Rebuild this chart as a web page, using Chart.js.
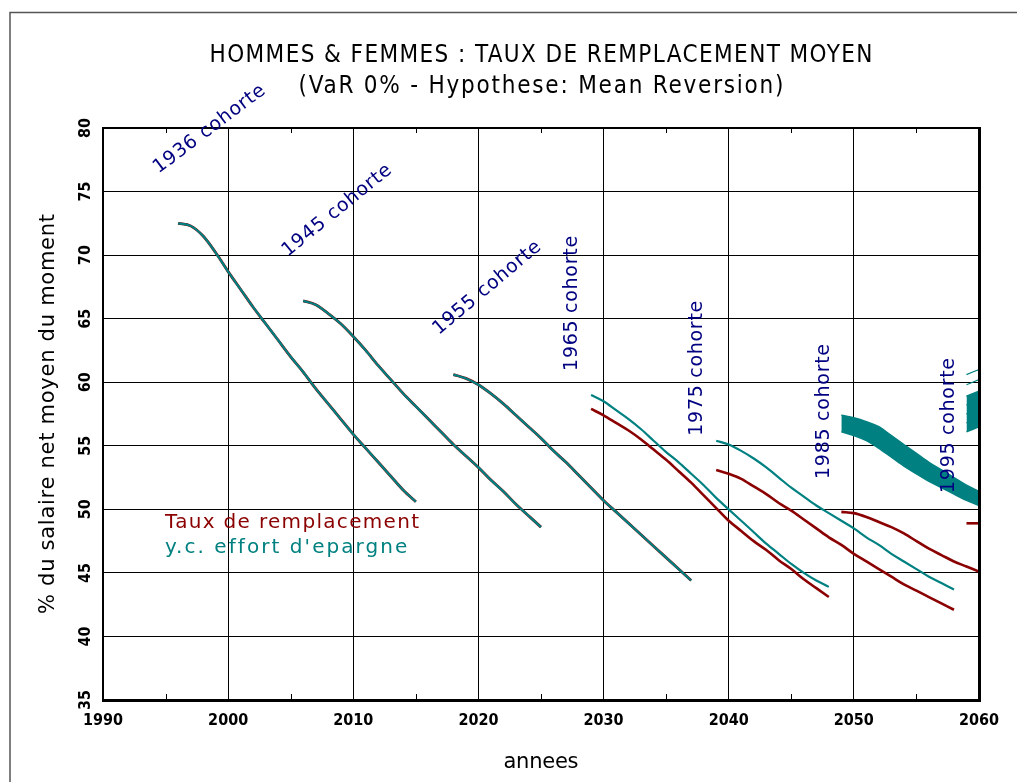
<!DOCTYPE html>
<html>
<head>
<meta charset="utf-8">
<script src="https://cdn.jsdelivr.net/npm/chart.js@4.4.0/dist/chart.umd.min.js"></script>
<style>
  html, body { margin: 0; padding: 0; background: #fff; }
  #wrap { width: 1017px; height: 782px; }
</style>
</head>
<body>
<div id="wrap"><canvas id="myChart" width="1017" height="782"></canvas></div>
<script>
// tick labels
const xTicks = [1990, 2000, 2010, 2020, 2030, 2040, 2050, 2060]
const yTicks = [35, 40, 45, 50, 55, 60, 65, 70, 75, 80]

// cohort names
const cohorts = ['1936 cohorte', '1945 cohorte', '1955 cohorte', '1965 cohorte', '1975 cohorte', '1985 cohorte', '1995 cohorte']

// 1936 cohort
const years1936 = [1996, 1997, 1998, 1999, 2000, 2001, 2002, 2003, 2004, 2005, 2006, 2007, 2008, 2009, 2010, 2011, 2012, 2013, 2014, 2015]
const taux1936 = [72.5, 72.3, 71.5, 70.2, 68.7, 67.3, 65.9, 64.6, 63.3, 62.0, 60.8, 59.5, 58.3, 57.1, 55.9, 54.8, 53.7, 52.6, 51.5, 50.6]
const epargne1936 = [72.5, 72.3, 71.5, 70.2, 68.7, 67.3, 65.9, 64.6, 63.3, 62.0, 60.8, 59.5, 58.3, 57.1, 55.9, 54.8, 53.7, 52.6, 51.5, 50.6]

// 1945 cohort
const years1945 = [2006, 2007, 2008, 2009, 2010, 2011, 2012, 2013, 2014, 2015, 2016, 2017, 2018, 2019, 2020, 2021, 2022, 2023, 2024, 2025]
const taux1945 = [66.4, 66.1, 65.4, 64.6, 63.6, 62.5, 61.3, 60.2, 59.1, 58.1, 57.1, 56.1, 55.1, 54.2, 53.3, 52.3, 51.4, 50.4, 49.5, 48.6]
const epargne1945 = [66.4, 66.1, 65.4, 64.6, 63.6, 62.5, 61.3, 60.2, 59.1, 58.1, 57.1, 56.1, 55.1, 54.2, 53.3, 52.3, 51.4, 50.4, 49.5, 48.6]

// 1955 cohort
const years1955 = [2018, 2019, 2020, 2021, 2022, 2023, 2024, 2025, 2026, 2027, 2028, 2029, 2030, 2031, 2032, 2033, 2034, 2035, 2036, 2037]
const taux1955 = [60.6, 60.3, 59.8, 59.1, 58.3, 57.4, 56.5, 55.6, 54.6, 53.7, 52.7, 51.7, 50.7, 49.8, 48.9, 48.0, 47.1, 46.2, 45.3, 44.4]
const epargne1955 = [60.6, 60.3, 59.8, 59.1, 58.3, 57.4, 56.5, 55.6, 54.6, 53.7, 52.7, 51.7, 50.7, 49.8, 48.9, 48.0, 47.1, 46.2, 45.3, 44.4]

// 1965 cohort
const years1965 = [2029, 2030, 2031, 2032, 2033, 2034, 2035, 2036, 2037, 2038, 2039, 2040, 2041, 2042, 2043, 2044, 2045, 2046, 2047, 2048]
const taux1965 = [57.9, 57.4, 56.8, 56.2, 55.5, 54.7, 53.9, 53.0, 52.1, 51.1, 50.1, 49.1, 48.3, 47.5, 46.8, 46.0, 45.3, 44.5, 43.8, 43.1]
const epargne1965 = [59.0, 58.5, 57.8, 57.1, 56.3, 55.4, 54.5, 53.7, 52.8, 51.9, 50.9, 50.0, 49.1, 48.2, 47.3, 46.5, 45.7, 45.0, 44.4, 43.9]

// 1975 cohort
const years1975 = [2039, 2040, 2041, 2042, 2043, 2044, 2045, 2046, 2047, 2048, 2049, 2050, 2051, 2052, 2053, 2054, 2055, 2056, 2057, 2058]
const taux1975 = [53.1, 52.8, 52.4, 51.8, 51.2, 50.5, 49.9, 49.2, 48.5, 47.8, 47.2, 46.5, 45.9, 45.3, 44.7, 44.1, 43.6, 43.1, 42.6, 42.1]
const epargne1975 = [55.4, 55.1, 54.6, 54.0, 53.3, 52.5, 51.7, 51.0, 50.3, 49.7, 49.1, 48.5, 47.8, 47.2, 46.5, 45.9, 45.3, 44.7, 44.2, 43.7]

// 1985 cohort (saving curves form a thick bundle)
const years1985 = [2049, 2050, 2051, 2052, 2053, 2054, 2055, 2056, 2057, 2058, 2059, 2060]
const taux1985 = [49.8, 49.7, 49.4, 49.0, 48.6, 48.1, 47.5, 46.9, 46.4, 45.9, 45.5, 45.1]
const epargne1985Low = [56.1, 55.8, 55.4, 54.8, 54.1, 53.4, 52.8, 52.2, 51.7, 51.2, 50.7, 50.3]
const epargne1985High = [57.4, 57.2, 56.9, 56.5, 55.8, 55.1, 54.4, 53.7, 53.1, 52.5, 51.9, 51.4]

// 1995 cohort (only the start is visible)
const years1995 = [2059, 2060]
const taux1995 = [48.9, 48.9]
const epargne1995a = [56.1, 56.5]
const epargne1995b = [56.8, 57.2]
const epargne1995c = [57.5, 57.9]
const epargne1995d = [58.2, 58.6]
const epargne1995e = [58.9, 59.3]
const epargne1995f = [59.8, 60.2]
const epargne1995g = [60.6, 61.0]

const RED = '#8b0000'
const TEAL = '#008080'
const NAVY = '#000080'

function curve(years, vals, color, width, order, extra) {
  return Object.assign({
    data: years.map((yr, i) => ({x: yr, y: vals[i]})),
    borderColor: color,
    backgroundColor: color,
    borderWidth: width,
    pointRadius: 0,
    cubicInterpolationMode: 'monotone',
    fill: false,
    order: order
  }, extra || {})
}

const datasets = [
  curve(years1936, epargne1936, TEAL, 2.2, 0),
  curve(years1945, epargne1945, TEAL, 2.2, 0),
  curve(years1955, epargne1955, TEAL, 2.2, 0),
  curve(years1965, epargne1965, TEAL, 2.2, 0),
  curve(years1975, epargne1975, TEAL, 2.2, 0),
  curve(years1985, epargne1985Low, TEAL, 1.5, 0),
  curve(years1985, epargne1985High, TEAL, 1.5, 0, {fill: '-1'}),
  curve(years1995, epargne1995a, TEAL, 1.5, 0),
  curve(years1995, epargne1995b, TEAL, 1.5, 0, {fill: '-1'}),
  curve(years1995, epargne1995c, TEAL, 1.5, 0, {fill: '-1'}),
  curve(years1995, epargne1995d, TEAL, 1.5, 0, {fill: '-1'}),
  curve(years1995, epargne1995e, TEAL, 1.5, 0, {fill: '-1'}),
  curve(years1995, epargne1995f, TEAL, 1.2, 0),
  curve(years1995, epargne1995g, TEAL, 1.2, 0),
  curve(years1936, taux1936, RED, 2.8, 1),
  curve(years1945, taux1945, RED, 2.8, 1),
  curve(years1955, taux1955, RED, 2.8, 1),
  curve(years1965, taux1965, RED, 2.6, 1),
  curve(years1975, taux1975, RED, 2.6, 1),
  curve(years1985, taux1985, RED, 2.6, 1),
  curve(years1995, taux1995, RED, 2.6, 1)
]

// where the cohort names sit (in data units) and their angle
const labelSpots = [
  {x: 1998.5, y: 79.9, angle: -37},
  {x: 2008.7, y: 73.5, angle: -39},
  {x: 2020.7, y: 67.4, angle: -40},
  {x: 2027.5, y: 66.2, angle: -90},
  {x: 2037.5, y: 61.1, angle: -90},
  {x: 2047.6, y: 57.7, angle: -90},
  {x: 2057.6, y: 56.6, angle: -90}
]

// draw text stretched to a given width with letter spacing
function spacedText(ctx, text, x, y, width, font, align) {
  ctx.font = font
  ctx.letterSpacing = '0px'
  const w = ctx.measureText(text).width
  const ls = (width - w) / Math.max(text.length - 1, 1)
  ctx.letterSpacing = ls + 'px'
  ctx.textAlign = 'left'
  let x0 = x
  if (align === 'center') x0 = x - width / 2
  ctx.fillText(text, x0, y)
  ctx.letterSpacing = '0px'
}

const decor = {
  id: 'decor',
  afterDraw(chart) {
    const {ctx, chartArea: a, scales} = chart
    const xs = scales.x, ys = scales.y
    ctx.save()

    // outer frame
    ctx.strokeStyle = '#555'
    ctx.lineWidth = 1.5
    ctx.beginPath()
    ctx.moveTo(10, 782)
    ctx.lineTo(10, 12.5)
    ctx.lineTo(1017, 12.5)
    ctx.stroke()

    // plot frame
    ctx.fillStyle = '#000'
    ctx.fillRect(a.left - 1, a.top - 1, a.right - a.left + 2, 2)
    ctx.fillRect(a.left - 1, a.bottom - 1, a.right - a.left + 3, 3)
    ctx.fillRect(a.left - 1, a.top - 1, 2, a.bottom - a.top + 2)
    ctx.fillRect(a.right - 1, a.top - 1, 3, a.bottom - a.top + 3)

    // 5 year minor ticks on top and bottom
    ctx.lineWidth = 1
    ctx.strokeStyle = '#000'
    for (let yr = 1995; yr < 2060; yr += 10) {
      const px = Math.round(xs.getPixelForValue(yr)) + 0.5
      ctx.beginPath()
      ctx.moveTo(px, a.bottom)
      ctx.lineTo(px, a.bottom - 6)
      ctx.moveTo(px, a.top)
      ctx.lineTo(px, a.top + 5)
      ctx.stroke()
    }

    // y tick labels, turned on their side
    ctx.fillStyle = '#000'
    ctx.font = 'bold 16px "DejaVu Sans Condensed", "DejaVu Sans"'
    ctx.textAlign = 'center'
    ctx.textBaseline = 'middle'
    yTicks.forEach(v => {
      ctx.save()
      ctx.translate(a.left - 17, ys.getPixelForValue(v))
      ctx.rotate(-Math.PI / 2)
      ctx.fillText(String(v), 0, 0)
      ctx.restore()
    })

    // titles
    const mid = (a.left + a.right) / 2
    ctx.fillStyle = '#000'
    ctx.textBaseline = 'alphabetic'
    spacedText(ctx, 'HOMMES & FEMMES : TAUX DE REMPLACEMENT MOYEN', mid, 62, 663, '24px "DejaVu Sans Condensed", "DejaVu Sans"', 'center')
    spacedText(ctx, '(VaR 0% - Hypothese: Mean Reversion)', mid, 93, 485, '24px "DejaVu Sans Condensed", "DejaVu Sans"', 'center')
    spacedText(ctx, 'annees', mid, 768, 75, '21px "DejaVu Sans"', 'center')

    ctx.save()
    ctx.translate(54, (a.top + a.bottom) / 2)
    ctx.rotate(-Math.PI / 2)
    spacedText(ctx, '% du salaire net moyen du moment', 0, 0, 400, '21px "DejaVu Sans"', 'center')
    ctx.restore()

    // cohort names
    ctx.fillStyle = NAVY
    ctx.textBaseline = 'middle'
    cohorts.forEach((name, i) => {
      const s = labelSpots[i]
      ctx.save()
      ctx.translate(xs.getPixelForValue(s.x), ys.getPixelForValue(s.y))
      ctx.rotate(s.angle * Math.PI / 180)
      spacedText(ctx, name, 0, 0, 135, '19px "DejaVu Sans"', 'center')
      ctx.restore()
    })

    // legend text
    ctx.textBaseline = 'alphabetic'
    ctx.fillStyle = RED
    spacedText(ctx, 'Taux de remplacement', 165, 528, 254, '20px "DejaVu Sans"', 'left')
    ctx.fillStyle = TEAL
    spacedText(ctx, "y.c. effort d'epargne", 165, 553, 242, '20px "DejaVu Sans"', 'left')

    ctx.restore()
  }
}

const ctx = document.getElementById('myChart')
new Chart(ctx, {
  type: 'line',
  data: { datasets: datasets },
  plugins: [decor],
  options: {
    responsive: false,
    animation: false,
    layout: { padding: { top: 128, right: 38, left: 0, bottom: 0 } },
    plugins: {
      legend: { display: false },
      title: { display: false },
      tooltip: { enabled: false }
    },
    scales: {
      x: {
        type: 'linear',
        min: 1990,
        max: 2060,
        afterFit(scale) { scale.height = 82 },
        afterBuildTicks(scale) { scale.ticks = xTicks.map(v => ({value: v})) },
        ticks: {
          color: '#000',
          padding: 11,
          maxRotation: 0,
          callback: v => String(v),
          font: { family: '"DejaVu Sans Condensed", "DejaVu Sans"', size: 16, weight: 'bold' }
        },
        grid: { color: '#000', lineWidth: 1, drawTicks: false },
        border: { display: false }
      },
      y: {
        min: 35,
        max: 80,
        afterFit(scale) { scale.width = 103 },
        afterBuildTicks(scale) { scale.ticks = yTicks.map(v => ({value: v})) },
        ticks: { display: false },
        grid: { color: '#000', lineWidth: 1, drawTicks: false },
        border: { display: false }
      }
    }
  }
})
</script>
</body>
</html>
